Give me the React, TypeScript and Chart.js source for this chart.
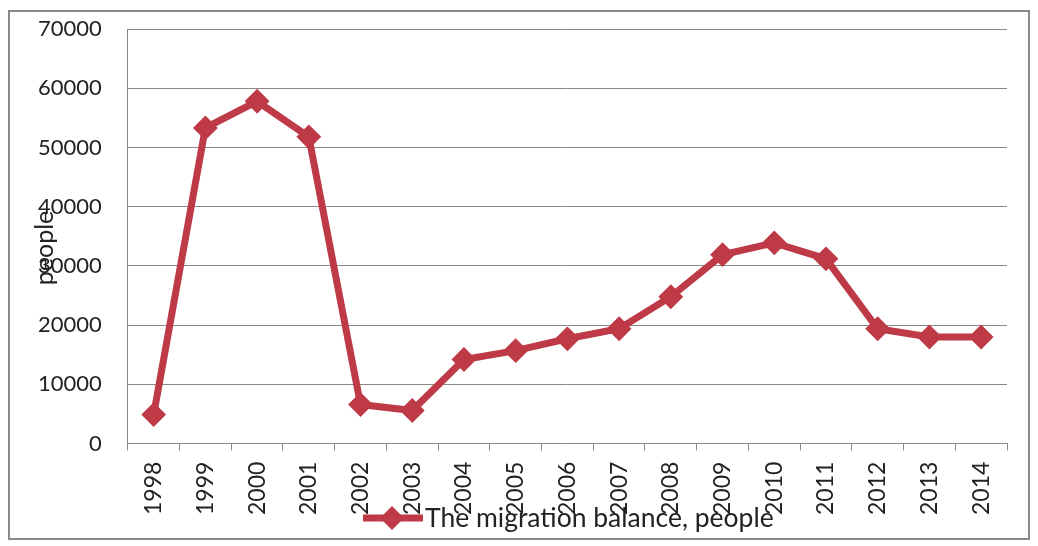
import React, { useEffect, useRef } from "react";
import { Chart, registerables } from "chart.js";

Chart.register(...registerables);

const years: string[] = [
  "1998", "1999", "2000", "2001", "2002", "2003", "2004", "2005", "2006",
  "2007", "2008", "2009", "2010", "2011", "2012", "2013", "2014",
];
const migrationBalance: number[] = [
  4900, 53300, 57800, 51800, 6600, 5600, 14200, 15700, 17700,
  19400, 24800, 31900, 33900, 31200, 19400, 18000, 18000,
];
const seriesLabel = "The migration balance, people";
const yTitle = "people";
const yMin = 0;
const yMax = 70000;
const yStep = 10000;

const LINE_COLOR = "#BE3A46";
const FONT = "Lato, 'Open Sans', sans-serif";

const overlayPlugin = {
  id: "overlay",
  afterDraw(chart: any) {
    const ctx = chart.ctx as CanvasRenderingContext2D;
    ctx.save();
    // y axis title, overlapping tick labels like the reference
    ctx.font = `25px ${FONT}`;
    ctx.fillStyle = "#222";
    ctx.textAlign = "center";
    ctx.textBaseline = "middle";
    ctx.translate(35, 236);
    ctx.rotate(-Math.PI / 2);
    ctx.fillText(yTitle, 0, 0);
    ctx.restore();

    // legend
    ctx.save();
    const ly = 506;
    ctx.strokeStyle = LINE_COLOR;
    ctx.lineWidth = 7;
    ctx.beginPath();
    ctx.moveTo(353, ly);
    ctx.lineTo(413, ly);
    ctx.stroke();
    const cx = 382;
    const r = 12;
    ctx.fillStyle = LINE_COLOR;
    ctx.beginPath();
    ctx.moveTo(cx, ly - r);
    ctx.lineTo(cx + r, ly);
    ctx.lineTo(cx, ly + r);
    ctx.lineTo(cx - r, ly);
    ctx.closePath();
    ctx.fill();
    ctx.font = `26.5px ${FONT}`;
    ctx.fillStyle = "#222";
    ctx.textAlign = "left";
    ctx.textBaseline = "middle";
    ctx.fillText(seriesLabel, 415, ly);
    ctx.restore();
  },
};

export default function App() {
  const canvasRef = useRef<HTMLCanvasElement | null>(null);

  useEffect(() => {
    if (!canvasRef.current) return;
    const chart = new Chart(canvasRef.current, {
      type: "line",
      data: {
        labels: years,
        datasets: [
          {
            label: seriesLabel,
            data: migrationBalance,
            borderColor: LINE_COLOR,
            backgroundColor: LINE_COLOR,
            borderWidth: 7,
            pointStyle: "rectRot",
            pointRadius: 11,
            pointBorderWidth: 2,
            pointBackgroundColor: LINE_COLOR,
            pointBorderColor: LINE_COLOR,
            tension: 0,
          },
        ],
      },
      options: {
        animation: false,
        responsive: true,
        maintainAspectRatio: false,
        layout: {
          autoPadding: false,
          padding: { left: 28, top: 17, right: 21, bottom: 12 },
        },
        plugins: {
          legend: { display: false },
          tooltip: { enabled: false },
        },
        scales: {
          x: {
            type: "category",
            offset: true,
            grid: {
              offset: true,
              drawOnChartArea: false,
              drawTicks: true,
              tickLength: 7,
              color: "#888",
            },
            border: { color: "#888", width: 1 },
            ticks: {
              autoSkip: false,
              minRotation: 90,
              maxRotation: 90,
              padding: 11,
              color: "#222",
              font: { family: FONT, size: 23 },
            },
          },
          y: {
            min: yMin,
            max: yMax,
            grid: {
              color: "#888",
              drawTicks: true,
              tickLength: 26,
              tickColor: "rgba(0,0,0,0)",
            },
            border: { color: "#888", width: 1 },
            ticks: {
              stepSize: yStep,
              padding: 0,
              color: "#222",
              font: { family: FONT, size: 22 },
              callback: (v: any) => String(v),
            },
          },
        },
      },
      plugins: [overlayPlugin],
    });
    return () => chart.destroy();
  }, []);

  return (
    <div
      style={{
        width: 1018,
        height: 526,
        marginTop: 2,
        border: "2px solid #8a8a8a",
        position: "relative",
        background: "#fff",
      }}
    >
      <canvas ref={canvasRef} />
    </div>
  );
}
